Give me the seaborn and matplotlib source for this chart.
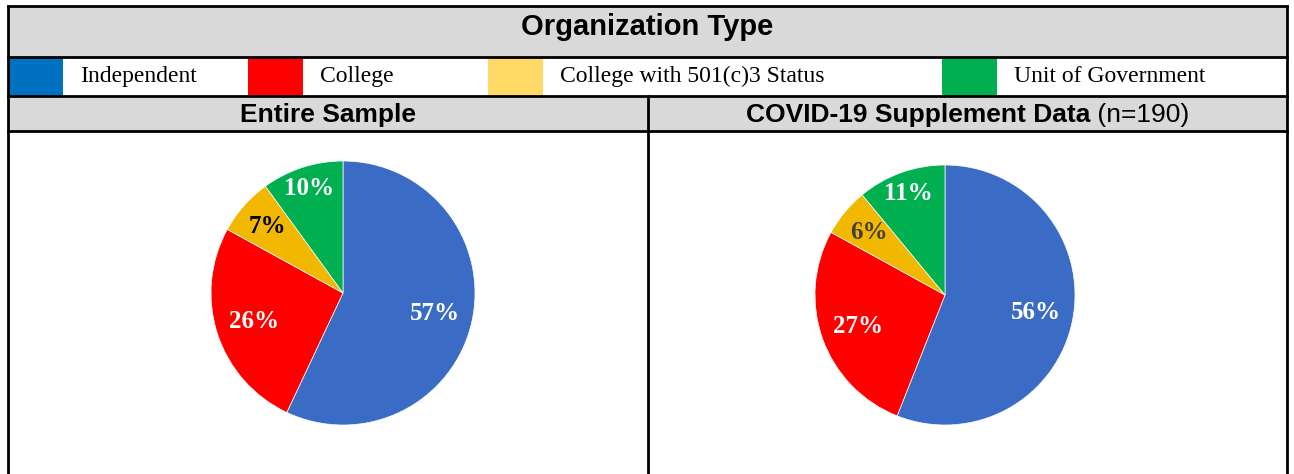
import matplotlib
matplotlib.use("Agg")
import matplotlib.pyplot as plt
from matplotlib.patches import Rectangle
import numpy as np
import seaborn as sns

# ---- data ----
categories = ["Independent", "College", "College with 501(c)3 Status", "Unit of Government"]
entire_sample = [57, 26, 7, 10]
covid_sample = [56, 27, 6, 11]
chart_title = "Organization Type"
panel_left_title = "Entire Sample"
panel_right_title_bold = "COVID-19 Supplement Data"
panel_right_title_reg = " (n=190)"

# ---- style ----
sns.set_theme(style="white")
plt.rcParams["font.family"] = ["Liberation Sans", "DejaVu Sans"]
plt.rcParams["text.color"] = "black"

legend_colors = ["#0070C0", "#FF0000", "#FFD966", "#00B050"]
pie_colors = sns.color_palette(["#3B6CC5", "#FF0000", "#F2B800", "#00B050"])
left_label_colors = ["white", "white", "black", "white"]
right_label_colors = ["white", "white", "#404040", "white"]
label_dist = [0.71, 0.71, 0.76, 0.83]

W, H = 1294, 474
fig = plt.figure(figsize=(W / 100, H / 100), dpi=100)
bg = fig.add_axes([0, 0, 1, 1])
bg.set_xlim(0, W)
bg.set_ylim(H, 0)
bg.axis("off")

gray = "#D9D9D9"
L, R, T = 8, 1287, 6
y_title_bot, y_leg_bot, y_head_bot = 57, 96, 131
xmid = 648

bg.add_patch(Rectangle((L, T), R - L, y_title_bot - T, facecolor=gray, edgecolor="none"))
bg.add_patch(Rectangle((L, y_leg_bot), R - L, y_head_bot - y_leg_bot, facecolor=gray, edgecolor="none"))

# legend boxes
box_x = [8, 248, 488, 942]
box_w = 55
for x, c, name in zip(box_x, legend_colors, categories):
    bg.add_patch(Rectangle((x, y_title_bot), box_w, y_leg_bot - y_title_bot, facecolor=c, edgecolor="none"))
    bg.text(x + box_w + 17, 82, name, ha="left", va="baseline",
            fontsize=17, family=["Liberation Serif"], color="black")

lw = 2
for y in [T, y_title_bot, y_leg_bot, y_head_bot]:
    bg.plot([L, R], [y, y], color="black", lw=lw, solid_capstyle="projecting")
bg.plot([L, L], [T, H], color="black", lw=lw)
bg.plot([R, R], [T, H], color="black", lw=lw)
bg.plot([xmid, xmid], [y_leg_bot, H], color="black", lw=lw)

bg.text((L + R) / 2, 35, chart_title, ha="center", va="baseline",
        fontsize=21, fontweight="bold", color="black")
bg.text((L + xmid) / 2, 122, panel_left_title, ha="center", va="baseline",
        fontsize=19, fontweight="bold", color="black")

# right header with mixed weights, centered
cx = (xmid + R) / 2
cy = 122
t1 = bg.text(0, cy, panel_right_title_bold, ha="left", va="baseline", fontsize=19, fontweight="bold", color="black")
t2 = bg.text(0, cy, panel_right_title_reg, ha="left", va="baseline", fontsize=19, color="black")
fig.canvas.draw()
r = fig.canvas.get_renderer()
w1 = t1.get_window_extent(r).width
w2 = t2.get_window_extent(r).width
start = cx - (w1 + w2) / 2
t1.set_x(start)
t2.set_x(start + w1)


def draw_pie(cx, cy, rad, vals, lcolors):
    ax = fig.add_axes([(cx - rad) / W, (H - cy - rad) / H, 2 * rad / W, 2 * rad / H])
    wedges, _ = ax.pie(vals, colors=pie_colors, startangle=90, counterclock=False,
                       wedgeprops=dict(edgecolor="white", linewidth=0.5))
    ax.set_xlim(-1, 1)
    ax.set_ylim(-1, 1)
    ax.set_aspect("equal")
    ax.axis("off")
    for w, v, c, d in zip(wedges, vals, lcolors, label_dist):
        ang = np.deg2rad((w.theta1 + w.theta2) / 2)
        ax.text(d * np.cos(ang), d * np.sin(ang), f"{v}%", ha="center", va="center",
                fontsize=18, fontweight="bold", family=["Liberation Serif"], color=c)
    return ax


draw_pie(343, 293, 132, entire_sample, left_label_colors)
draw_pie(945, 295, 130, covid_sample, right_label_colors)

fig.savefig("out.png", dpi=100)
